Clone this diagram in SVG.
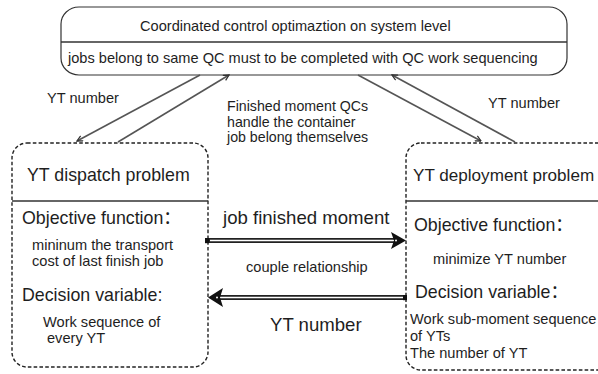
<svg xmlns="http://www.w3.org/2000/svg" width="598" height="374" viewBox="0 0 598 374">
<defs>
<style>
text{font-family:"Liberation Sans","Noto Sans CJK SC",Arial,sans-serif;fill:#1e1e1e}
.s{font-size:14.6px}
.n{font-size:14.2px}
.m{font-size:17.8px}
.l{font-size:18.6px}
.box{fill:#fff;stroke:#333;stroke-width:1.2}
.dash{fill:#fff;stroke:#222;stroke-width:1.4;stroke-dasharray:3.6,2.2}
.div{stroke:#333;stroke-width:1.4}
.diag{stroke:#555;stroke-width:1.6;fill:none;marker-end:url(#v)}
.dbl{stroke:#222;stroke-width:5.2;fill:none}
.dbw{stroke:#fff;stroke-width:1.6;fill:none}
</style>
<marker id="v" viewBox="0 0 10 10" refX="9" refY="5" markerWidth="7" markerHeight="7" markerUnits="userSpaceOnUse" orient="auto">
<path d="M1,1 L9,5 L1,9" fill="none" stroke="#333" stroke-width="1.8"/>
</marker>
</defs>

<g id="system-level">
<rect class="box" x="61" y="7" width="506" height="68" rx="18" ry="17"/>
<line class="div" x1="61" y1="42" x2="567" y2="42" stroke-width="1"/>
<text class="s" x="140" y="31">Coordinated control optimaztion on system level</text>
<text class="s" x="68" y="63">jobs belong to same QC must to be completed with QC work sequencing</text>
</g>

<g id="yt-dispatch">
<rect class="dash" x="12" y="143" width="196" height="224" rx="15"/>
<line class="div" x1="12" y1="201" x2="208" y2="201"/>
<text class="m" x="27" y="181">YT dispatch problem</text>
<text class="m" x="22" y="224">Objective function：</text>
<text class="s" x="32" y="250">mininum the transport</text>
<text class="s" x="32" y="266">cost of last finish job</text>
<text class="m" x="22" y="301">Decision variable:</text>
<text class="s" x="43" y="327">Work sequence of</text>
<text class="s" x="47" y="343">every YT</text>
</g>

<g id="yt-deployment">
<rect class="dash" x="406" y="143" width="215" height="227" rx="15"/>
<line class="div" x1="406" y1="201" x2="598" y2="201"/>
<text class="m" x="413" y="181" style="font-size:17.1px">YT deployment problem</text>
<text class="m" x="414" y="231">Objective function：</text>
<text class="s" x="433" y="264">minimize YT number</text>
<text class="m" x="415" y="298">Decision variable：</text>
<text class="s" x="410" y="324">Work sub-moment sequence</text>
<text class="s" x="410" y="341">of YTs</text>
<text class="s" x="410" y="358">The number of YT</text>
</g>

<g id="connectors">
<line class="diag" x1="200" y1="75" x2="77" y2="141"/>
<line class="diag" x1="118" y1="142" x2="229" y2="75"/>
<line class="diag" x1="358" y1="75" x2="481" y2="141"/>
<line class="diag" x1="515" y1="142" x2="392" y2="75"/>

<line class="dbl" x1="207" y1="240.5" x2="396" y2="240.5"/>
<line class="dbw" x1="210" y1="240.5" x2="398" y2="240.5"/>
<rect x="205" y="238" width="4" height="5.2" fill="#111"/>
<polygon points="391,232 406,240.5 391,249 394,240.5" fill="#111"/>
<circle cx="396" cy="240.5" r="1" fill="#fff"/>

<line class="dbl" x1="218" y1="297.5" x2="407" y2="297.5"/>
<line class="dbw" x1="216" y1="297.5" x2="403" y2="297.5"/>
<rect x="403" y="295" width="4" height="5.2" fill="#111"/>
<polygon points="223,288 208,297.5 223,307 220,297.5" fill="#111"/>
<circle cx="217" cy="297.5" r="1" fill="#fff"/>

<text class="s" x="47" y="103">YT number</text>
<text class="s" x="488" y="108">YT number</text>
<text class="n" x="227" y="111">Finished moment QCs</text>
<text class="n" x="227" y="126.5">handle the container</text>
<text class="n" x="227" y="142">job belong themselves</text>
<text class="l" x="223" y="224">job finished moment</text>
<text class="s" x="246" y="272">couple relationship</text>
<text class="l" x="270" y="331">YT number</text>
</g>
</svg>
